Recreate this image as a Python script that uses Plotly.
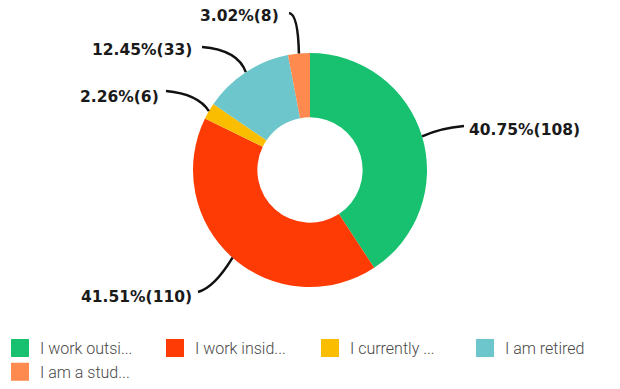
import math
import plotly.graph_objects as go

# Survey answers (legend labels as displayed) and counts
labels = ["I work outsi...", "I work insid...", "I currently ...", "I am retired", "I am a stud..."]
counts = [108, 110, 6, 33, 8]
colors = ["#17c170", "#ff3b05", "#fbbd00", "#6cc6cb", "#ff8a50"]

W, H = 620, 389
CX, CY, R = 310, 170, 117  # pie centre and outer radius in px

fig = go.Figure()
fig.add_trace(go.Pie(
    labels=labels,
    values=counts,
    hole=0.45,
    sort=False,
    direction="clockwise",
    rotation=0,
    marker=dict(colors=colors, line=dict(width=0)),
    textinfo="none",
    hoverinfo="label+value+percent",
    showlegend=False,
    domain=dict(x=[(CX - R) / W, (CX + R) / W], y=[(H - CY - R) / H, (H - CY + R) / H]),
))

# legend entries with larger rounded square swatches
for lab, col in zip(labels, colors):
    fig.add_trace(go.Scatter(
        x=[None], y=[None], mode="markers", name=lab,
        marker=dict(symbol="square", size=16, color=col, line=dict(color=col, width=2)),
        hoverinfo="skip",
    ))

def px(x, y):
    return x / W, 1 - y / H

total = sum(counts)
# label placement per slice: text anchor, line start and curve control point (px)
label_style = [
    dict(tx=467, ty=130, xanchor="left", end=(464, 126), ctrl=(440, 128)),
    dict(tx=194, ty=297, xanchor="right", end=(198, 292), ctrl=(214, 288)),
    dict(tx=161, ty=97, xanchor="right", end=(166, 91), ctrl=(198, 94)),
    dict(tx=194, ty=50, xanchor="right", end=(202, 47), ctrl=(238, 50)),
    dict(tx=281, ty=16, xanchor="right", end=(289, 13), ctrl=(298, 14)),
]

shapes, annotations = [], []
start = 0.0
for cnt, st in zip(counts, label_style):
    frac = cnt / total
    mid = (start + frac / 2) * 2 * math.pi
    start += frac
    ax = CX + R * math.sin(mid)
    ay = CY - R * math.cos(mid)
    ex, ey = st["end"]
    cx, cy = st["ctrl"]
    p0 = px(ex, ey); pc = px(cx, cy); p1 = px(ax, ay)
    shapes.append(dict(
        type="path", xref="paper", yref="paper",
        path=f"M {p0[0]},{p0[1]} Q {pc[0]},{pc[1]} {p1[0]},{p1[1]}",
        line=dict(color="#111111", width=2.5),
    ))
    tx, ty = px(st["tx"], st["ty"])
    annotations.append(dict(
        x=tx, y=ty, xref="paper", yref="paper", xanchor=st["xanchor"], yanchor="middle",
        text=f"{cnt / total * 100:.2f}%({cnt})", showarrow=False,
        font=dict(family="DejaVu Sans, sans-serif", size=15.5, color="#1a1a1a", weight=700),
    ))

fig.update_layout(
    width=W, height=H,
    margin=dict(l=0, r=0, t=0, b=0),
    paper_bgcolor="white",
    plot_bgcolor="white",
    xaxis=dict(visible=False),
    yaxis=dict(visible=False),
    shapes=shapes,
    annotations=annotations,
    showlegend=True,
    legend=dict(
        orientation="h", x=0.0, y=0.0, xanchor="left", yanchor="bottom",
        entrywidth=110, entrywidthmode="pixels",
        font=dict(family="Roboto, sans-serif", size=16, color="#484848", weight=300),
        itemclick=False, itemsizing="trace", tracegroupgap=0,
    ),
)

fig.write_html("out.html")
